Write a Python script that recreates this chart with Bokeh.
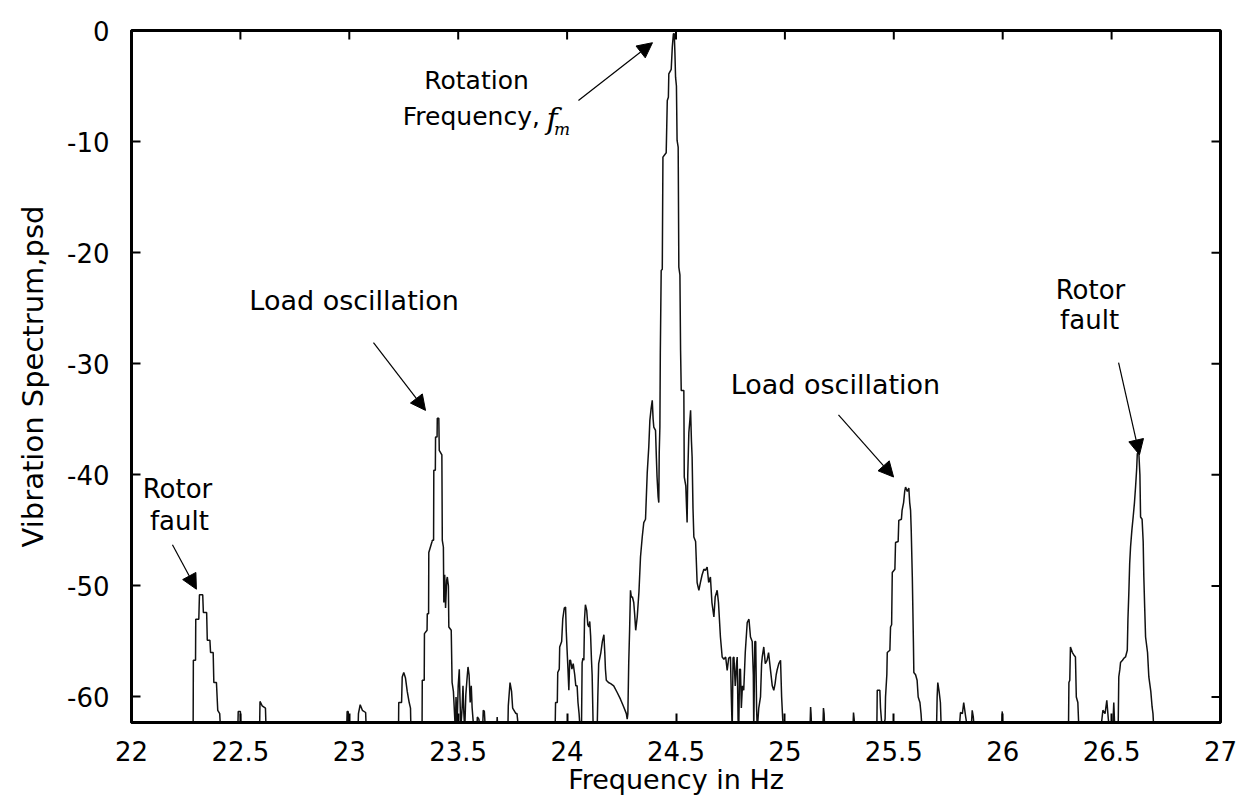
import math
from bokeh.plotting import figure
from bokeh.models import Range1d, FixedTicker, Arrow, NormalHead, Label
from bokeh.embed import file_html
from bokeh.resources import INLINE

# ---------------- data ----------------
x_ticks = [22, 22.5, 23, 23.5, 24, 24.5, 25, 25.5, 26, 26.5, 27]
x_tick_labels = ["22", "22.5", "23", "23.5", "24", "24.5", "25", "25.5", "26", "26.5", "27"]
y_ticks = [-60, -50, -40, -30, -20, -10, 0]
y_tick_labels = ["-60", "-50", "-40", "-30", "-20", "-10", "0"]

x_title = "Frequency in Hz"
y_title = "Vibration Spectrum,psd"

# spectrum segments (Hz, dB)
rotor_lo_hz = [22.283, 22.284, 22.294, 22.295, 22.309, 22.312, 22.327, 22.33, 22.345, 22.348, 22.36, 22.363,
               22.375, 22.378, 22.39, 22.396, 22.405, 22.409]
rotor_lo_db = [-63, -56.7, -56.7, -53, -53, -50.8, -50.8, -52.4, -52.4, -54.9, -54.9, -56,
               -56, -58.7, -58.7, -61.2, -61.5, -63]

blips_a_hz = [22.488, 22.49, 22.5, 22.502, 22.588, 22.59, 22.6, 22.615, 22.618,
              22.988, 22.99, 22.995, 22.997, 23.04, 23.042, 23.05, 23.06, 23.075, 23.078,
              23.226, 23.227, 23.24, 23.243, 23.25, 23.258, 23.266, 23.275, 23.281, 23.283]
blips_a_db = [-63, -61.3, -61.3, -63, -63, -60.4, -60.8, -61, -63,
              -63, -61.3, -61.3, -63, -63, -61.5, -60.7, -61.2, -61.4, -63,
              -63, -60.5, -60.5, -58.2, -57.8, -58.3, -59.5, -60.5, -61, -63]

load_lo_hz = [23.334, 23.335, 23.344, 23.345, 23.357, 23.358, 23.364, 23.365, 23.38, 23.381, 23.387, 23.388,
              23.395, 23.396, 23.403, 23.404, 23.411, 23.413, 23.425, 23.427, 23.432, 23.434, 23.438, 23.442,
              23.447, 23.45, 23.455, 23.457, 23.468, 23.472, 23.478, 23.48, 23.487, 23.49, 23.495, 23.5,
              23.505, 23.508, 23.512, 23.518, 23.522, 23.526, 23.53, 23.535, 23.54, 23.545, 23.55, 23.555,
              23.56, 23.564, 23.57, 23.575, 23.585, 23.588, 23.595, 23.6, 23.612, 23.615, 23.62, 23.625,
              23.676, 23.679, 23.682, 23.728, 23.73, 23.738, 23.745, 23.75, 23.765, 23.77, 23.775, 23.78]
load_lo_db = [-63, -58.5, -58.5, -54.3, -54, -52.5, -52.5, -47, -46, -45.9, -45.9, -39.6,
              -39.6, -36.6, -36.6, -34.9, -34.9, -37.8, -38.2, -45.9, -46.5, -51.5, -49, -52,
              -49.5, -49.2, -50, -53.7, -54, -58.7, -59.5, -60.3, -63, -60, -62.5, -59,
              -57.5, -60, -62.8, -61, -59, -61.5, -63, -59.8, -58.5, -57.3, -58, -60.5,
              -59, -61, -62.5, -63, -63, -61.8, -62, -63, -63, -61.2, -61.3, -63,
              -63, -61.8, -63, -63, -60.8, -58.7, -59.5, -61, -61.5, -61.5, -62.5, -63]

cluster_hz = [23.945, 23.947, 23.955, 23.957, 23.964, 23.966, 23.975, 23.98, 23.987, 23.993, 23.996, 24.0,
              24.004, 24.008, 24.012, 24.016, 24.022, 24.028, 24.035, 24.04, 24.046, 24.05, 24.055, 24.06,
              24.066, 24.069, 24.073, 24.077, 24.08, 24.084, 24.09, 24.095, 24.1, 24.104, 24.108, 24.112,
              24.115, 24.12, 24.138, 24.141, 24.145, 24.15, 24.155, 24.162, 24.169, 24.173, 24.176, 24.18,
              24.19, 24.2, 24.214, 24.23, 24.245, 24.26, 24.272, 24.276, 24.279]
cluster_db = [-63, -60.5, -60.5, -57.8, -57.5, -55.5, -55, -53, -52, -51.9, -54, -55.8,
              -57.5, -59.4, -56.7, -56.7, -57.5, -57, -58, -59, -59, -60.5, -61.5, -63,
              -63, -56.9, -56.5, -56.7, -53, -51.7, -52.2, -53.5, -53.7, -53.2, -54.5, -56.7,
              -58, -63, -63, -60, -57, -56.5, -56, -55, -54.4, -56, -57.5, -58.5,
              -58.7, -58.8, -59, -59.6, -60.2, -60.9, -61.5, -62, -61.5]

main_hz = [24.283, 24.287, 24.291, 24.295, 24.3, 24.306, 24.31, 24.315, 24.322, 24.33, 24.337, 24.345,
           24.352, 24.36, 24.368, 24.375, 24.38, 24.386, 24.391, 24.395, 24.398, 24.406, 24.41, 24.413,
           24.418, 24.421, 24.423, 24.426, 24.428, 24.432, 24.437, 24.44, 24.455, 24.46, 24.465, 24.467,
           24.478, 24.483, 24.488, 24.492, 24.495, 24.498, 24.502, 24.505, 24.51, 24.513, 24.518, 24.521,
           24.524, 24.53, 24.536, 24.538, 24.545, 24.551, 24.554, 24.559, 24.564, 24.567, 24.571, 24.574,
           24.578, 24.582, 24.59, 24.597, 24.605, 24.612, 24.62, 24.628, 24.635, 24.643, 24.65, 24.658,
           24.665, 24.674, 24.68, 24.689, 24.695, 24.704, 24.712, 24.72, 24.728, 24.735, 24.742, 24.75,
           24.754, 24.758, 24.762, 24.766, 24.772, 24.778, 24.781, 24.785, 24.788, 24.792, 24.796, 24.8,
           24.805, 24.811, 24.818, 24.827, 24.835, 24.842, 24.85, 24.855, 24.857, 24.862, 24.866, 24.87,
           24.873, 24.88, 24.888, 24.893, 24.896, 24.903, 24.91, 24.918, 24.925, 24.934, 24.942, 24.949,
           24.955, 24.96, 24.964, 24.972, 24.98, 24.985, 24.99, 24.995]
main_db = [-56.9, -54, -50.4, -51, -51, -51.5, -52.5, -54, -52.8, -50.5, -47.4, -45.6,
           -44.3, -44, -39.8, -37.5, -35.1, -34, -33.3, -35, -35.7, -36, -38.5, -40.2,
           -42, -42.5, -38, -35.7, -29, -21.6, -21.5, -11.4, -11, -6.3, -6, -3.9,
           -3.5, -1.5, -0.3, -0.3, -2, -4.2, -5, -9.9, -10.5, -21.3, -22, -28.8,
           -32.4, -32.4, -32.4, -40.2, -41, -44.3, -40, -36.2, -35, -34.2, -37, -38.4,
           -43, -45.6, -46, -49.7, -50.4, -49.7, -49, -48.5, -48.6, -48.3, -49.7, -49.2,
           -51.5, -52.8, -51, -50.4, -51.5, -54.6, -56.4, -56.6, -56.4, -57.6, -56.5, -56.4,
           -60, -63, -56.5, -56.4, -59, -57, -56.4, -62, -63, -57.5, -57.5, -61,
           -59, -59.4, -56, -53.3, -53, -54.6, -55, -58, -63, -55, -55, -61,
           -63, -61, -60, -57, -56.4, -55.5, -57, -56.7, -56, -57.6, -59, -59.4,
           -58.8, -58, -57.6, -57, -56.7, -60, -62, -63]

blips_b_hz = [25.115, 25.118, 25.12, 25.123, 25.174, 25.177, 25.18, 25.183, 25.312, 25.315, 25.318, 25.321]
blips_b_db = [-63, -60.9, -61.5, -63, -63, -61, -61.5, -63, -63, -61.4, -62, -63]

load_hi_hz = [25.422, 25.424, 25.436, 25.439, 25.445, 25.45, 25.46, 25.462, 25.468, 25.47, 25.482, 25.485,
              25.49, 25.493, 25.505, 25.508, 25.52, 25.523, 25.535, 25.538, 25.545, 25.55, 25.554, 25.562,
              25.569, 25.573, 25.577, 25.58, 25.585, 25.59, 25.592, 25.6, 25.607, 25.612, 25.62, 25.625, 25.63]
load_hi_db = [-63, -59.4, -59.4, -61, -62.5, -63, -62, -60, -58, -56, -55.8, -53.7,
              -53.5, -48.8, -48.5, -46.1, -46, -44.1, -44, -43.2, -42.5, -41.5, -41.1, -41.5,
              -41.2, -42.5, -43.2, -45, -49.2, -55, -57.8, -58, -58.5, -60, -60.5, -61.5, -63]

blips_c_hz = [25.696, 25.699, 25.702, 25.708, 25.714, 25.718, 25.8, 25.806, 25.815, 25.821, 25.83, 25.84,
              25.855, 25.86, 25.865, 25.87, 25.995, 25.998, 26.0,
              26.302, 26.304, 26.308, 26.311, 26.32, 26.326, 26.334, 26.338, 26.345, 26.35,
              26.45, 26.46, 26.47, 26.478, 26.485, 26.49, 26.505, 26.51, 26.515]
blips_c_db = [-63, -60, -58.7, -59.5, -60.5, -63, -63, -61.4, -61.5, -60.5, -61.8, -63,
              -63, -61.2, -61.8, -63, -63, -61.3, -63,
              -63, -58.7, -58.5, -55.5, -56, -56.2, -56.4, -60, -60.5, -63,
              -63, -61.2, -61.5, -60.3, -62, -63, -63, -60.5, -63]

rotor_hi_hz = [26.53, 26.533, 26.538, 26.541, 26.55, 26.557, 26.564, 26.572, 26.575, 26.579, 26.583, 26.587,
               26.593, 26.599, 26.605, 26.61, 26.615, 26.618, 26.625, 26.63, 26.633, 26.64, 26.645, 26.648,
               26.652, 26.656, 26.665, 26.671, 26.68, 26.686, 26.69, 26.694]
rotor_hi_db = [-63, -58.2, -57.5, -56.9, -56.7, -56.5, -56.4, -55.8, -53, -50.7, -48, -46.5,
               -45, -43.8, -42.5, -41.1, -39.5, -38.1, -38, -40, -43.8, -44, -46, -49.2,
               -52, -54.6, -56, -58.2, -59.5, -60.9, -61.5, -63]

segments = [(rotor_lo_hz, rotor_lo_db), (blips_a_hz, blips_a_db), (load_lo_hz, load_lo_db),
            (cluster_hz, cluster_db), (main_hz, main_db), (blips_b_hz, blips_b_db),
            (load_hi_hz, load_hi_db), (blips_c_hz, blips_c_db), (rotor_hi_hz, rotor_hi_db)]

freq = []
psd = []
for h, d in segments:
    freq += h
    psd += d

FONT = "DejaVu Sans"
X0, X1 = 22, 27
Y0, Y1 = -62.3, 0

p = figure(width=1255, height=797, output_backend="svg", toolbar_location=None,
           x_range=Range1d(X0, X1), y_range=Range1d(Y0, Y1),
           min_border_left=131, min_border_right=35, min_border_top=30, min_border_bottom=73)
p.background_fill_color = "white"
p.border_fill_color = "white"
p.outline_line_color = "black"
p.outline_line_width = 3
p.xgrid.visible = False
p.ygrid.visible = False

p.line(freq, psd, line_color="#111111", line_width=1.5)

# inward ticks on the top and right edges (box style)
p.ray(x=x_ticks, y=[Y1] * len(x_ticks), length=9, length_units="screen",
      angle=-math.pi / 2, line_color="black", line_width=2)
p.ray(x=[X1] * len(y_ticks), y=y_ticks, length=9, length_units="screen",
      angle=math.pi, line_color="black", line_width=2)

xa = p.xaxis[0]
ya = p.yaxis[0]
xa.ticker = FixedTicker(ticks=x_ticks)
ya.ticker = FixedTicker(ticks=y_ticks)
xa.major_label_overrides = {t: l for t, l in zip(x_ticks, x_tick_labels)}
ya.major_label_overrides = {t: l for t, l in zip(y_ticks, y_tick_labels)}
for ax in (xa, ya):
    ax.axis_line_color = "black"
    ax.axis_line_width = 3
    ax.major_tick_in = 9
    ax.major_tick_out = 0
    ax.major_tick_line_width = 2
    ax.minor_tick_line_color = None
    ax.major_label_text_font = FONT
    ax.major_label_text_color = "black"
    ax.major_label_text_font_size = "26px"
    ax.axis_label_text_font = FONT
    ax.axis_label_text_font_style = "normal"
    ax.axis_label_text_color = "black"
xa.major_label_standoff = 18
ya.major_label_standoff = 22
xa.axis_label = x_title
ya.axis_label = y_title
xa.axis_label_text_font_size = "27px"
ya.axis_label_text_font_size = "29px"
xa.axis_label_standoff = 0
ya.axis_label_standoff = 14


def label(x, y, text, size="27px", style="normal", align="center", font=FONT):
    p.add_layout(Label(x=x, y=y, text=text, text_font=font, text_font_size=size,
                       text_font_style=style, text_align=align, text_baseline="middle",
                       text_color="black"))


label(23.584, -4.5, "Rotation", size="25px")
label(23.875, -7.7, "Frequency,", size="25px", align="right")
label(23.905, -7.9, "f", size="30px", style="italic", align="left", font="DejaVu Serif")
label(23.94, -8.9, "m", size="17px", style="italic", align="left", font="DejaVu Serif")
label(23.022, -24.3, "Load oscillation")
label(25.232, -31.9, "Load oscillation")
label(26.403, -23.4, "Rotor", size="26px")
label(26.399, -26.1, "fault", size="26px")
label(22.211, -41.3, "Rotor", size="26px")
label(22.22, -44.2, "fault", size="26px")


def arrow(x0, y0, x1, y1):
    p.add_layout(Arrow(end=NormalHead(size=15, fill_color="black", line_color="black"),
                       x_start=x0, y_start=y0, x_end=x1, y_end=y1,
                       line_color="black", line_width=1.2))


arrow(24.052, -6.3, 24.392, -1.1)
arrow(23.111, -28.1, 23.35, -34.2)
arrow(25.246, -34.6, 25.499, -40.2)
arrow(26.532, -29.9, 26.628, -38.2)
arrow(22.188, -46.3, 22.298, -50.3)

open("out.html", "w").write(file_html(p, INLINE))
